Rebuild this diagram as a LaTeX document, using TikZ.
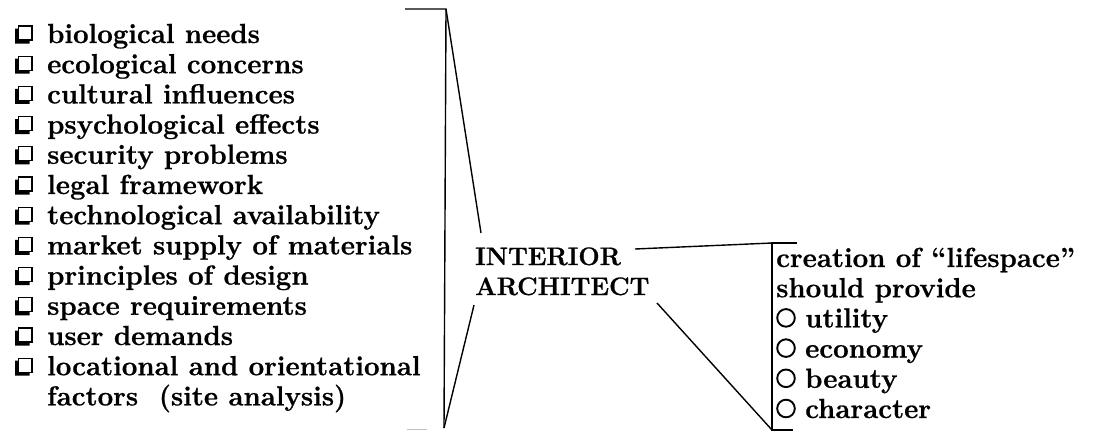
\documentclass[tikz,border=0pt]{standalone}
\usepackage{fontspec}
\setmainfont{Latin Modern Roman}[BoldFeatures={FakeBold=0.8}]
\begin{document}
\begin{tikzpicture}[x=1pt,y=-1pt,
  txt/.style={anchor=base west, inner sep=0pt, font=\fontsize{27.6}{30.2}\selectfont\bfseries},
  bigtxt/.style={anchor=base west, inner sep=0pt, font=\fontsize{25.3}{30}\selectfont\bfseries},
  ln/.style={line width=1.4pt},
  chkbox/.pic={
    \draw[line width=1.1pt] (18.5,-17) rectangle (32,-3);
    \fill (15,-14.5) -- (18.5,-14.5) -- (18.5,-3) -- (29.5,-3) -- (29.5,0.5) -- (15,0.5) -- cycle;
  },
  ring/.style={line width=1.9pt}
]
\useasboundingbox (0,0) rectangle (1094,432);

% left list
\foreach \t [count=\k from 0] in {biological needs, ecological concerns, cultural influences,
  psychological effects, security problems, legal framework, technological availability,
  market supply of materials, principles of design, space requirements, user demands,
  locational and orientational}{
  \pgfmathsetmacro{\b}{43+30.2*\k}
  \pic at (0,\b) {chkbox};
  \node[txt] (l\k) at (47,\b) {\t};
}
\node[txt] (l12) at (47,{43+30.2*12}) {factors\ \ (site analysis)};

% center
\node[bigtxt] (ia1) at (475,265) {INTERIOR};
\node[bigtxt] (ia2) at (475,295) {ARCHITECT};

% right list
\node[txt] (r0) at (776,267) {creation of “lifespace”};
\node[txt] (r1) at (776,297.2) {should provide};
\foreach \t [count=\k from 2] in {utility, economy, beauty, character}{
  \pgfmathsetmacro{\b}{267+30.2*\k}
  \draw[ring] (786,\b-9.5) circle (8.8);
  \node[txt] (r\k) at (805,\b) {\t};
}

% bracket and connectors
\coordinate (ltl) at (405,9);
\coordinate (ltop) at (446,9);
\coordinate (lbot) at (444,428);
\coordinate (iaA) at (481,233);
\coordinate (iaB) at (474,305);
\coordinate (iaC) at (635,249);
\coordinate (iaD) at (657,303);
\coordinate (rtop) at (772,243);
\coordinate (rtr) at (797,243);
\coordinate (rbot) at (772,430);
\coordinate (rbr) at (793,430);
\coordinate (fa) at (407,429);
\coordinate (fb) at (427,429);

\draw[ln] (ltl) -- (ltop) -- (lbot);
\draw[ln] (ltop) -- (iaA);
\draw[ln] (iaB) -- (lbot);
\draw[line width=1pt, black!25] (fa) -- (fb);
\draw[ln] (iaC) -- (rtop);
\draw[ln] (rtr) -- (rtop) -- (rbot) -- (rbr);
\draw[ln] (iaD) -- (rbot);
\end{tikzpicture}
\end{document}
